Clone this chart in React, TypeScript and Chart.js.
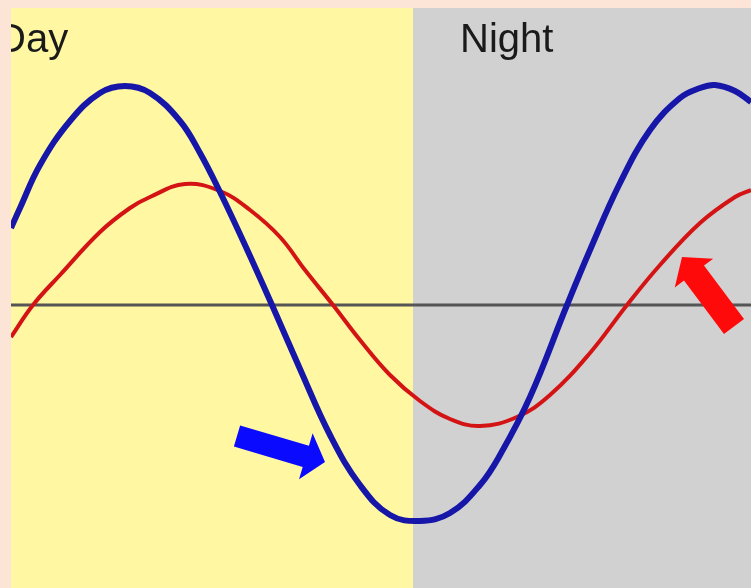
import React, { useEffect, useRef } from "react";
import { Chart, registerables } from "chart.js";

Chart.register(...registerables);

// x: position along the day/night cycle (arbitrary units), y: offset from the baseline
const blueX = [0, 9, 29, 59, 89, 114, 139, 169, 189, 209, 234, 261, 289, 319, 349, 379, 409, 439, 469, 489, 519, 556, 579, 609, 639, 669, 689, 704, 724, 740];
const blueY = [77, 97, 140, 184, 212, 219, 212, 184, 152, 113, 60, 0, -64, -130, -180, -210, -216, -208, -180, -150, -92, 0, 55, 122, 175, 207, 217, 220, 214, 203];

const redX = [0, 22, 49, 89, 119, 139, 174, 209, 239, 269, 294, 322, 349, 379, 409, 439, 469, 506, 539, 579, 616, 649, 689, 724, 740];
const redY = [-32, 0, 30, 73, 97, 108, 121, 114, 95, 68, 35, 0, -35, -70, -96, -114, -121, -112, -90, -48, 0, 40, 82, 108, 115];

const baselineX = [0, 740];
const baselineY = [0, 0];

const xMin = 0;
const xMax = 740;
const yMin = -283;
const yMax = 297;

const dayRange = [0, 402];
const nightRange = [402, 740];
const dayLabel = "Day";
const nightLabel = "Night";
const dayLabelPos = [-14, 253];
const nightLabelPos = [449, 253];

// arrows: [tailX, tailY, tipX, tipY] in data units
const blueArrow = [226, -131, 314, -157];
const redArrow = [723, -21.5, 671, 48];

const toPoints = (xs: number[], ys: number[]) => xs.map((x, i) => ({ x, y: ys[i] }));

function drawArrow(ctx: CanvasRenderingContext2D, chart: any, a: number[], color: string, sw: number, hw: number, hl: number) {
  const xs = chart.scales.x;
  const ys = chart.scales.y;
  const tx = xs.getPixelForValue(a[0]);
  const ty = ys.getPixelForValue(a[1]);
  const px = xs.getPixelForValue(a[2]);
  const py = ys.getPixelForValue(a[3]);
  const dx = px - tx;
  const dy = py - ty;
  const L = Math.hypot(dx, dy);
  const ux = dx / L, uy = dy / L;
  const nx = -uy, ny = ux;
  const b = L - hl;
  const pt = (s: number, w: number) => [tx + ux * s + nx * w, ty + uy * s + ny * w];
  const pts = [
    pt(0, sw / 2), pt(b, sw / 2), pt(b, hw / 2), pt(L, 0), pt(b, -hw / 2), pt(b, -sw / 2), pt(0, -sw / 2),
  ];
  ctx.save();
  ctx.beginPath();
  ctx.moveTo(pts[0][0], pts[0][1]);
  for (let i = 1; i < pts.length; i++) ctx.lineTo(pts[i][0], pts[i][1]);
  ctx.closePath();
  ctx.fillStyle = color;
  ctx.fill();
  ctx.restore();
}

const bgPlugin = {
  id: "dayNightBg",
  beforeDatasetsDraw(chart: any) {
    const { ctx, chartArea, scales } = chart;
    const xs = scales.x;
    ctx.save();
    const d0 = xs.getPixelForValue(dayRange[0]);
    const d1 = xs.getPixelForValue(dayRange[1]);
    const n0 = xs.getPixelForValue(nightRange[0]);
    const n1 = xs.getPixelForValue(nightRange[1]);
    ctx.fillStyle = "#fff7a2";
    ctx.fillRect(d0, chartArea.top, d1 - d0, chartArea.bottom - chartArea.top);
    ctx.fillStyle = "#d1d1d1";
    ctx.fillRect(n0, chartArea.top, n1 - n0 + 1, chartArea.bottom - chartArea.top);

    // labels
    ctx.beginPath();
    ctx.rect(chartArea.left, chartArea.top, chartArea.right - chartArea.left, chartArea.bottom - chartArea.top);
    ctx.clip();
    ctx.font = '40px "Liberation Sans", Arial, sans-serif';
    ctx.fillStyle = "#1a1a1a";
    ctx.textBaseline = "alphabetic";
    ctx.textAlign = "left";
    ctx.fillText(dayLabel, xs.getPixelForValue(dayLabelPos[0]), scales.y.getPixelForValue(dayLabelPos[1]));
    ctx.fillText(nightLabel, xs.getPixelForValue(nightLabelPos[0]), scales.y.getPixelForValue(nightLabelPos[1]));
    ctx.restore();
  },
  afterDatasetsDraw(chart: any) {
    const { ctx } = chart;
    drawArrow(ctx, chart, blueArrow, "#0a0aff", 22, 48, 20);
    drawArrow(ctx, chart, redArrow, "#ff0a0a", 25, 48, 20);
  },
};

export default function App() {
  const ref = useRef<HTMLCanvasElement | null>(null);
  useEffect(() => {
    if (!ref.current) return;
    const chart = new Chart(ref.current, {
      type: "line",
      data: {
        datasets: [
          {
            data: toPoints(blueX, blueY),
            borderColor: "#1616a8",
            borderWidth: 6,
            pointRadius: 0,
            tension: 0.4,
            fill: false,
          },
          {
            data: toPoints(redX, redY),
            borderColor: "#d41414",
            borderWidth: 4,
            pointRadius: 0,
            tension: 0.4,
            fill: false,
          },
          {
            data: toPoints(baselineX, baselineY),
            borderColor: "#555555",
            borderWidth: 3,
            pointRadius: 0,
            fill: false,
          },
        ],
      },
      options: {
        animation: false,
        responsive: false,
        maintainAspectRatio: false,
        layout: { padding: { left: 11, top: 8, right: 0, bottom: 0 } },
        plugins: { legend: { display: false }, tooltip: { enabled: false } },
        events: [],
        scales: {
          x: { type: "linear", min: xMin, max: xMax, display: false },
          y: { type: "linear", min: yMin, max: yMax, display: false },
        },
      },
      plugins: [bgPlugin],
    });
    return () => chart.destroy();
  }, []);
  return (
    <div style={{ position: "fixed", left: 0, top: 0, width: 751, height: 588, background: "#fce5d7" }}>
      <canvas ref={ref} width={751} height={588} style={{ display: "block" }} />
    </div>
  );
}
